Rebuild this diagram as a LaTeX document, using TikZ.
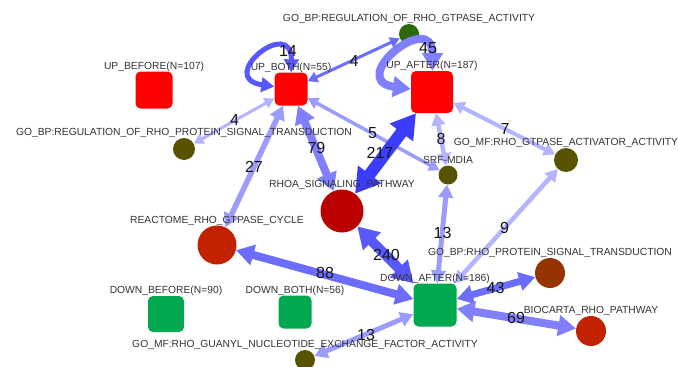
\documentclass[tikz,border=0pt]{standalone}
\usepackage{fontspec}
\setmainfont{Liberation Sans}
\usepackage{tikz}
\usetikzlibrary{arrows.meta, positioning, calc}
\definecolor{upred}{HTML}{FF0000}
\definecolor{dngreen}{HTML}{00A94F}
\definecolor{goleaf}{HTML}{2B6A0C}
\definecolor{goolive}{HTML}{585300}
\definecolor{rhoared}{HTML}{BB0000}
\definecolor{rustred}{HTML}{C22200}
\definecolor{brownred}{HTML}{953400}
\definecolor{lblgray}{HTML}{333333}
\definecolor{numblack}{HTML}{151515}
\definecolor{lnkA}{HTML}{3C3CFF}
\definecolor{lnkB}{HTML}{5858FF}
\definecolor{lnkC}{HTML}{6C6CFF}
\definecolor{lnkD}{HTML}{8080FF}
\definecolor{lnkE}{HTML}{9C9CFF}
\definecolor{lnkF}{HTML}{B4B4FF}
\tikzset{
  sq/.style={rectangle, rounded corners=5pt, inner sep=0pt, minimum size=#1},
  dot/.style={circle, inner sep=0pt, minimum size=#1},
  lbl/.style={font=\fontsize{10.3}{10.3}\selectfont, text=lblgray, inner sep=0pt, text depth=0pt},
  num/.style={font=\fontsize{16}{16}\selectfont, text=numblack, inner sep=0pt},
  link/.style={<->, line width=#1}
}

\begin{document}
\begin{tikzpicture}[x=1pt, y=-1pt, >={Triangle[length=5pt 1.6, width=5pt 1.9]}]
\useasboundingbox[fill=white] (0,0) rectangle (678,367);

% gene sets
\node[sq=37pt, fill=upred] (upbefore) at (154,90) {};
\node[sq=33pt, fill=upred] (upboth) at (291,89) {};
\node[sq=42pt, fill=upred] (upafter) at (432,92) {};
\node[sq=36pt, fill=dngreen] (dnbefore) at (166,314) {};
\node[sq=33pt, fill=dngreen] (dnboth) at (295,312) {};
\node[sq=43pt, fill=dngreen] (dnafter) at (435,305) {};

% pathways
\node[dot=20pt, fill=goleaf] (gtpasereg) at (409,34) {};
\node[dot=22pt, fill=goolive] (rhoprotreg) at (184,149) {};
\node[dot=24pt, fill=goolive] (activator) at (566,160) {};
\node[dot=19pt, fill=goolive] (srfmdia) at (448,175) {};
\node[dot=43pt, fill=rhoared] (rhoa) at (342,211) {};
\node[dot=39pt, fill=rustred] (reactome) at (217,245) {};
\node[dot=30pt, fill=brownred] (rhoprotsig) at (550,273) {};
\node[dot=30pt, fill=rustred] (biocarta) at (591,331) {};
\node[dot=20pt, fill=goolive] (guanyl) at (305,360) {};

% overlaps
\draw[link=5pt, lnkB] (upboth) .. controls (215,78) and (292,15) .. (upboth);
\draw[link=8pt, lnkD] (upafter) .. controls (345,80) and (433,8) .. (upafter);
\draw[link=3pt, lnkC] (upboth) -- (gtpasereg);
\draw[link=3pt, lnkF] (upboth) -- (rhoprotreg);
\draw[link=5.5pt, lnkE] (upboth) -- (reactome);
\draw[link=8pt, lnkD] (upboth) -- (rhoa);
\draw[link=3.5pt, lnkE] (upboth) -- (srfmdia);
\draw[link=12pt, lnkA] (upafter) -- (rhoa);
\draw[link=4.5pt, lnkF] (upafter) -- (srfmdia);
\draw[link=4pt, lnkF] (upafter) -- (activator);
\draw[link=10pt, lnkB] (dnafter) -- (rhoa);
\draw[link=8pt, lnkC] (dnafter) -- (reactome);
\draw[link=5pt, lnkE] (dnafter) -- (srfmdia);
\draw[link=4.5pt, lnkF] (dnafter) -- (activator);
\draw[link=7pt, lnkC] (dnafter) -- (rhoprotsig);
\draw[link=8pt, lnkD] (dnafter) -- (biocarta);
\draw[link=5pt, lnkE] (dnafter) -- (guanyl);

% names
\node[lbl, above=2pt of upbefore] (tupbefore) {UP\_BEFORE(N=107)};
\node[lbl, above=2pt of upboth] (tupboth) {UP\_BOTH(N=55)};
\node[lbl, above=2pt of upafter] (tupafter) {UP\_AFTER(N=187)};
\node[lbl, above=2pt of dnbefore] (tdnbefore) {DOWN\_BEFORE(N=90)};
\node[lbl, above=2pt of dnboth] (tdnboth) {DOWN\_BOTH(N=56)};
\node[lbl, above=2pt of dnafter] (tdnafter) {DOWN\_AFTER(N=186)};
\node[lbl, above=2pt of gtpasereg] (tgtpasereg) {GO\_BP:REGULATION\_OF\_RHO\_GTPASE\_ACTIVITY};
\node[lbl, above=2pt of rhoprotreg] (trhoprotreg) {GO\_BP:REGULATION\_OF\_RHO\_PROTEIN\_SIGNAL\_TRANSDUCTION};
\node[lbl, above=2pt of activator] (tactivator) {GO\_MF:RHO\_GTPASE\_ACTIVATOR\_ACTIVITY};
\node[lbl, above=2pt of srfmdia] (tsrfmdia) {SRF-MDIA};
\node[lbl, above=2pt of rhoa] (trhoa) {RHOA\_SIGNALING\_PATHWAY};
\node[lbl, above=2pt of reactome] (treactome) {REACTOME\_RHO\_GTPASE\_CYCLE};
\node[lbl, above=2pt of rhoprotsig] (trhoprotsig) {GO\_BP:RHO\_PROTEIN\_SIGNAL\_TRANSDUCTION};
\node[lbl, above=2pt of biocarta] (tbiocarta) {BIOCARTA\_RHO\_PATHWAY};
\node[lbl, above=2pt of guanyl] (tguanyl) {GO\_MF:RHO\_GUANYL\_NUCLEOTIDE\_EXCHANGE\_FACTOR\_ACTIVITY};

% counts
\node[num] (n14) at ($(upboth.north)+(-3,-21)$) {14};
\node[num] (n45) at ($(upafter.north)+(-4,-23)$) {45};
\node[num] (n4a) at ($(upboth)!.5!(gtpasereg)+(4,-1)$) {4};
\node[num] (n4b) at ($(upboth)!.5!(rhoprotreg)+(-3,1)$) {4};
\node[num] (n27) at ($(upboth)!.5!(reactome)$) {27};
\node[num] (n79) at ($(upboth)!.5!(rhoa)+(0,-2)$) {79};
\node[num] (n5) at ($(upboth)!.5!(srfmdia)+(3,1)$) {5};
\node[num] (n217) at ($(upafter)!.5!(rhoa)+(-7,1)$) {217};
\node[num] (n8) at ($(upafter)!.5!(srfmdia)+(1,5)$) {8};
\node[num] (n7) at ($(upafter)!.5!(activator)+(6,3)$) {7};
\node[num] (n240) at ($(dnafter)!.5!(rhoa)+(-2,-3)$) {240};
\node[num] (n88) at ($(dnafter)!.5!(reactome)+(-1,-2)$) {88};
\node[num] (n13a) at ($(dnafter)!.5!(srfmdia)+(1,-7)$) {13};
\node[num] (n9) at ($(dnafter)!.5!(activator)+(4,-5)$) {9};
\node[num] (n43) at ($(dnafter)!.5!(rhoprotsig)+(3,-1)$) {43};
\node[num] (n69) at ($(dnafter)!.5!(biocarta)+(3,0)$) {69};
\node[num] (n13b) at ($(dnafter)!.5!(guanyl)+(-4,2)$) {13};
\end{tikzpicture}
\end{document}
